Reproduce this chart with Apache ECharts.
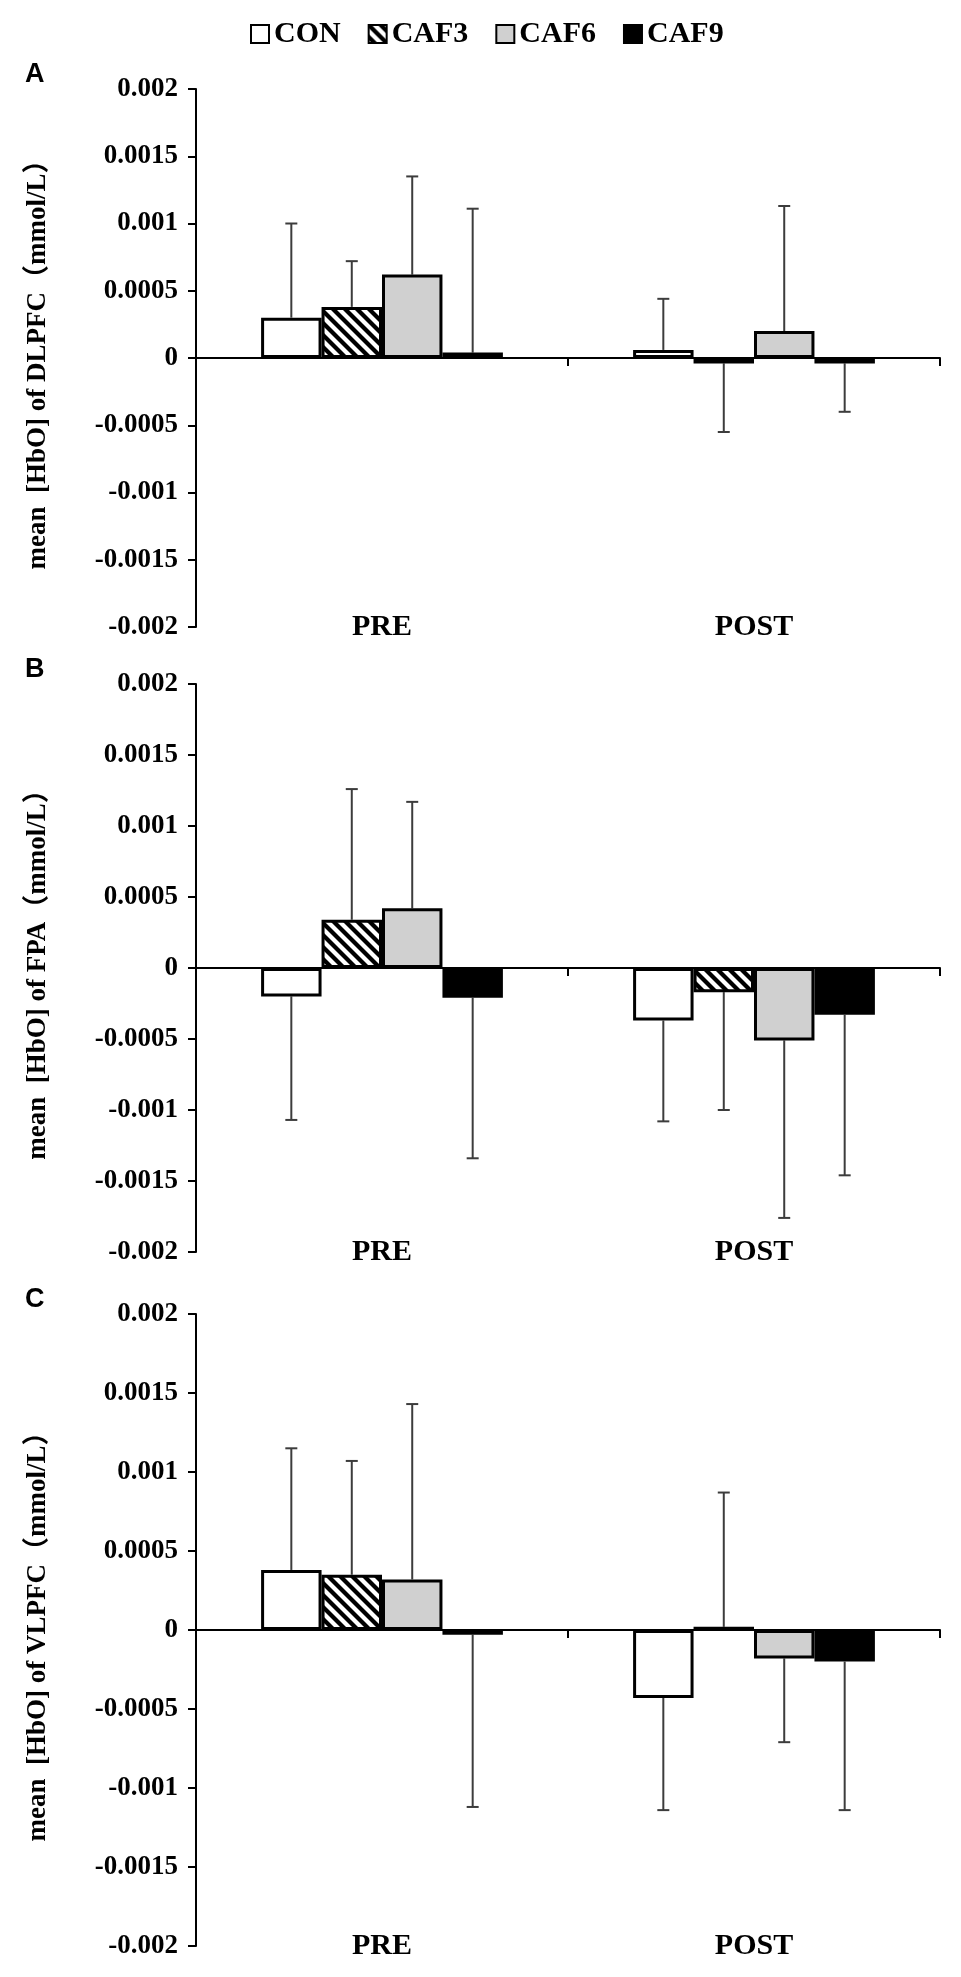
<!DOCTYPE html>
<html>
<head>
<meta charset="utf-8">
<script src="https://cdn.jsdelivr.net/npm/echarts@6/dist/echarts.min.js"></script>
<style>
  html, body { margin: 0; padding: 0; background: #fff; }
  #js_chart { width: 961px; height: 1977px; }
</style>
</head>
<body>
<div id="js_chart"></div>
<script>
// data
var categories = ['PRE', 'POST'];
var groups = ['CON', 'CAF3', 'CAF6', 'CAF9'];
var yTickLabels = ['-0.002', '-0.0015', '-0.001', '-0.0005', '0', '0.0005', '0.001', '0.0015', '0.002'];

// panel A - DLPFC
var dlpfcMean = {
    CON:  [0.00030, 0.00006],
    CAF3: [0.00038, -0.00004],
    CAF6: [0.00062, 0.00020],
    CAF9: [0.00004, -0.00004]
};
var dlpfcTip = {
    CON:  [0.00100, 0.00044],
    CAF3: [0.00072, -0.00055],
    CAF6: [0.00135, 0.00113],
    CAF9: [0.00111, -0.00040]
};
// panel B - FPA
var fpaMean = {
    CON:  [-0.00020, -0.00037],
    CAF3: [0.00034, -0.00017],
    CAF6: [0.00042, -0.00051],
    CAF9: [-0.00021, -0.00033]
};
var fpaTip = {
    CON:  [-0.00107, -0.00108],
    CAF3: [0.00126, -0.00100],
    CAF6: [0.00117, -0.00176],
    CAF9: [-0.00134, -0.00146]
};
// panel C - VLPFC
var vlpfcMean = {
    CON:  [0.00038, -0.00043],
    CAF3: [0.00035, 0.00002],
    CAF6: [0.00032, -0.00018],
    CAF9: [-0.00003, -0.00020]
};
var vlpfcTip = {
    CON:  [0.00115, -0.00114],
    CAF3: [0.00107, 0.00087],
    CAF6: [0.00143, -0.00071],
    CAF9: [-0.00112, -0.00114]
};

var panels = [
    {letter: 'A', title: 'mean  [HbO] of DLPFC\uff08mmol/L\uff09', mean: dlpfcMean, tip: dlpfcTip, top: 89,   height: 538},
    {letter: 'B', title: 'mean  [HbO] of FPA\uff08mmol/L\uff09',   mean: fpaMean,   tip: fpaTip,   top: 684,  height: 568},
    {letter: 'C', title: 'mean  [HbO] of VLPFC\uff08mmol/L\uff09', mean: vlpfcMean, tip: vlpfcTip, top: 1314, height: 632}
];

var serif = "'Times New Roman', 'Liberation Serif', 'Noto Sans CJK SC', serif";

// hatch for CAF3
var hatch = document.createElement('canvas');
hatch.width = 12;
hatch.height = 12;
(function(){
    var ctx = hatch.getContext('2d');
    ctx.fillStyle = '#fff';
    ctx.fillRect(0, 0, 12, 12);
    ctx.strokeStyle = '#000';
    ctx.lineWidth = 4.2;
    for (var s = -12; s <= 12; s += 12) {
        ctx.beginPath();
        ctx.moveTo(s - 2, -2);
        ctx.lineTo(s + 14, 14);
        ctx.stroke();
    }
})();

var fills = {
    CON: '#ffffff',
    CAF3: {image: hatch, repeat: 'repeat'},
    CAF6: '#d0d0d0',
    CAF9: '#000000'
};

var BAR_GAP_CAT = 0.35;

function errRender(idx) {
    return function(params, api) {
        var cat = api.value(0);
        var bw = api.size([1, 0])[0];
        var one = bw * (1 - BAR_GAP_CAT) / 4;
        var x = api.coord([cat, 0])[0] + (idx - 1.5) * one;
        var y0 = api.coord([cat, api.value(1)])[1];
        var y1 = api.coord([cat, api.value(2)])[1];
        var st = {stroke: '#3c3c3c', lineWidth: 2};
        return {
            type: 'group',
            children: [
                {type: 'line', shape: {x1: x, y1: y0, x2: x, y2: y1}, style: st},
                {type: 'line', shape: {x1: x - 6, y1: y1, x2: x + 6, y2: y1}, style: st}
            ]
        };
    };
}

var grids = [], xAxes = [], yAxes = [], series = [], graphics = [];

panels.forEach(function(p, pi){
    grids.push({left: 196, right: 21, top: p.top, height: p.height});
    // zero line with ticks
    xAxes.push({
        type: 'category', gridIndex: pi, data: categories,
        axisLine: {onZero: true, lineStyle: {color: '#000', width: 2}},
        axisTick: {show: true, length: 8, lineStyle: {color: '#000', width: 2}},
        axisLabel: {show: false},
        splitLine: {show: false}
    });
    // labels at the bottom of the plot
    xAxes.push({
        type: 'category', gridIndex: pi, data: categories, position: 'bottom',
        axisLine: {show: false, onZero: false},
        axisTick: {show: false},
        axisLabel: {
            margin: 0, verticalAlign: 'middle',
            color: '#000', fontFamily: serif, fontWeight: 'bold', fontSize: 30
        }
    });
    yAxes.push({
        type: 'value', gridIndex: pi, min: -0.002, max: 0.002, interval: 0.0005,
        name: p.title, nameLocation: 'middle', nameRotate: 90, nameGap: 144,
        nameTextStyle: {color: '#000', fontFamily: serif, fontWeight: 'bold', fontSize: 27},
        axisLine: {show: true, lineStyle: {color: '#000', width: 2}},
        axisTick: {show: true, length: 8, lineStyle: {color: '#000', width: 2}},
        axisLabel: {
            margin: 18, color: '#000', fontFamily: serif, fontWeight: 'bold',
            fontSize: 27,
            formatter: function(v, i){ return yTickLabels[i]; }
        },
        splitLine: {show: false}
    });

    groups.forEach(function(g, gi){
        series.push({
            name: g, type: 'bar',
            xAxisIndex: pi * 2, yAxisIndex: pi,
            barGap: '0%', barCategoryGap: (BAR_GAP_CAT * 100) + '%',
            itemStyle: {color: fills[g], borderColor: '#000', borderWidth: 3},
            emphasis: {disabled: true},
            z: 3,
            data: p.mean[g]
        });
        series.push({
            name: 'err_' + p.letter + g, type: 'custom',
            xAxisIndex: pi * 2, yAxisIndex: pi,
            renderItem: errRender(gi),
            z: 2, silent: true,
            data: categories.map(function(c, ci){ return [ci, p.mean[g][ci], p.tip[g][ci]]; })
        });
    });

    graphics.push({
        type: 'text', left: 25, top: p.top - 28,
        style: {text: p.letter, fill: '#000', font: "bold 27px 'Liberation Sans', Arial, sans-serif"}
    });
});

var myChart = echarts.init(document.getElementById('js_chart'));
var option = {
    animation: false,
    backgroundColor: '#fff',
    legend: {
        data: groups,
        left: 245, top: 14,
        icon: 'rect', itemWidth: 18, itemHeight: 18, itemGap: 27,
        textStyle: {color: '#000', fontFamily: serif, fontWeight: 'bold', fontSize: 30}
    },
    grid: grids,
    xAxis: xAxes,
    yAxis: yAxes,
    graphic: graphics,
    series: series
};
myChart.setOption(option);
</script>
</body>
</html>
